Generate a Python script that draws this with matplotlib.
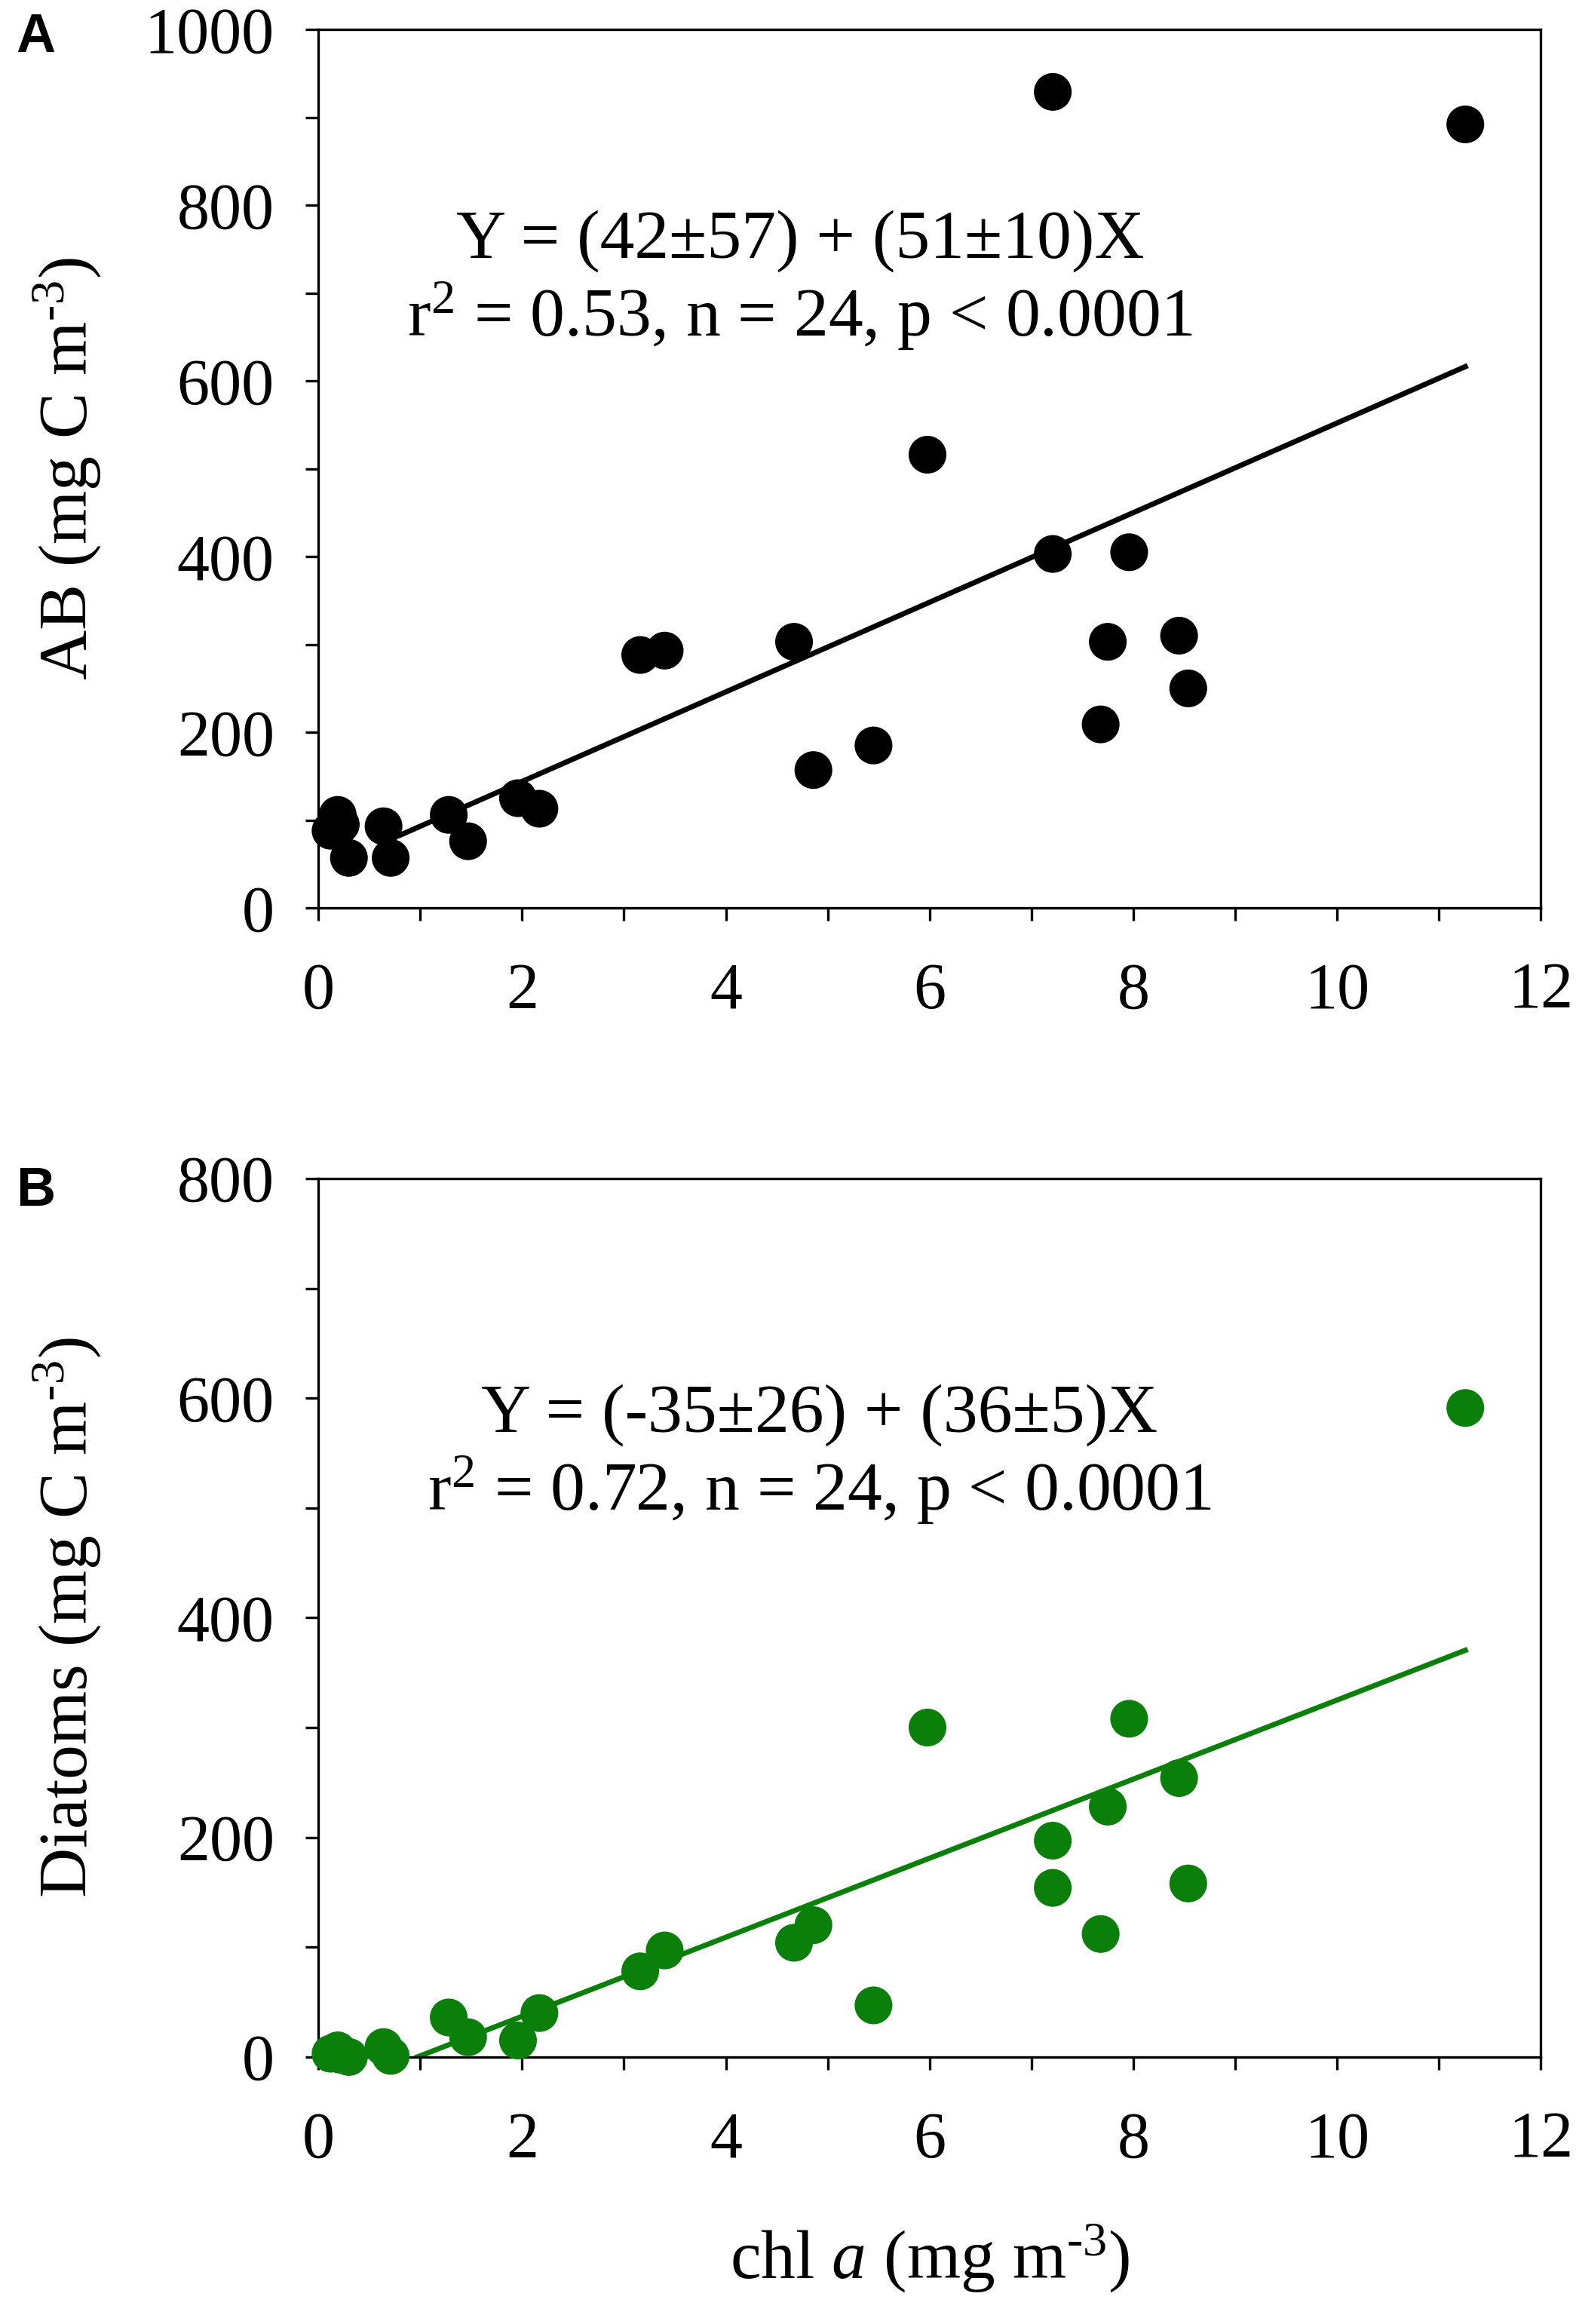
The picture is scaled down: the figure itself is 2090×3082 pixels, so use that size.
import matplotlib
matplotlib.use("Agg")
import matplotlib.pyplot as plt
import numpy as np
from matplotlib.ticker import MultipleLocator

plt.rcParams["font.family"] = ["Liberation Serif", "DejaVu Serif"]
plt.rcParams["mathtext.fontset"] = "custom"
plt.rcParams["mathtext.rm"] = "Liberation Serif"
plt.rcParams["mathtext.it"] = "Liberation Serif:italic"

# ------------------------------------------------------------------
# data
# ------------------------------------------------------------------
chl = [0.12, 0.19, 0.22, 0.30, 0.64, 0.71, 1.28, 1.47, 1.96, 2.17, 3.16, 3.40,
       4.67, 4.86, 5.45, 5.98, 7.21, 7.21, 7.68, 7.75, 7.96, 8.45, 8.54, 11.26]
ab = [88, 106, 95, 57, 93, 57, 106, 76, 125, 113, 288, 293,
      303, 157, 185, 516, 929, 403, 209, 303, 405, 310, 250, 892]
diatoms = [3, 6, 2, 0, 9, 1, 36, 18, 15, 40, 78, 97,
           104, 120, 47, 300, 197, 154, 112, 228, 308, 254, 158, 591]

ab_fit = (42, 51)          # intercept, slope
ab_fit_x = [0.8, 11.26]
dia_fit = (-35, 36)
dia_fit_x = [0.97, 11.26]

ab_text = "Y = (42\u00b157) + (51\u00b110)X\nr$^2$ = 0.53, n = 24, p < 0.0001"
dia_text = "Y = (-35\u00b126) + (36\u00b15)X\nr$^2$ = 0.72, n = 24, p < 0.0001"

UNIT = "m$^{\\mathrm{\u2010}3}$"
GREEN = "#0a800a"

fig = plt.figure(figsize=(20.9, 30.82), dpi=100)
ax1 = fig.add_axes([0.202, 0.6093, 0.7756, 0.378])
ax2 = fig.add_axes([0.202, 0.1149, 0.7756, 0.378])


def style(ax, ymax):
    ax.set_xlim(0, 12)
    ax.set_ylim(0, ymax)
    ax.xaxis.set_major_locator(MultipleLocator(2))
    ax.xaxis.set_minor_locator(MultipleLocator(1))
    ax.yaxis.set_major_locator(MultipleLocator(200))
    ax.yaxis.set_minor_locator(MultipleLocator(100))
    ax.tick_params(which="both", direction="out", length=12, width=2.4,
                   top=False, right=False)
    ax.tick_params(axis="y", which="major", labelsize=62, pad=30)
    ax.tick_params(axis="x", which="major", labelsize=62, pad=40)
    for s in ax.spines.values():
        s.set_linewidth(2.4)


def draw(ax, y, fit, fit_x, color, text, text_xy, ymax):
    ax.scatter(chl, y, s=1300, color=color, edgecolors="none", zorder=3,
               clip_on=False)
    fx = np.array(fit_x)
    ax.plot(fx, fit[0] + fit[1] * fx, color=color, lw=5, zorder=2)
    ax.text(text_xy[0], text_xy[1], text, ha="center", va="center",
            fontsize=66, linespacing=1.15)
    style(ax, ymax)


draw(ax1, ab, ab_fit, ab_fit_x, "black", ab_text, (4.73, 714), 1000)
draw(ax2, diatoms, dia_fit, dia_fit_x, GREEN, dia_text, (4.92, 548), 800)

ax1.set_ylabel("AB (mg C " + UNIT + ")", fontsize=66, va="center")
ax1.yaxis.set_label_coords(-0.206, 0.5)
ax2.set_ylabel("Diatoms (mg C " + UNIT + ")", fontsize=66, va="center")
ax2.yaxis.set_label_coords(-0.206, 0.5)
ax2.set_xlabel("chl $\\mathit{a}$ (mg " + UNIT + ")", fontsize=66, va="center")
ax2.xaxis.set_label_coords(0.5, -0.229)

fig.text(0.01, 1 - 16 / 3082, "A", ha="left", va="top", fontsize=52,
         fontweight="bold", family="Liberation Sans")
fig.text(0.01, 1 - 1546 / 3082, "B", ha="left", va="top", fontsize=52,
         fontweight="bold", family="Liberation Sans")

fig.savefig("out.png", dpi=100)
